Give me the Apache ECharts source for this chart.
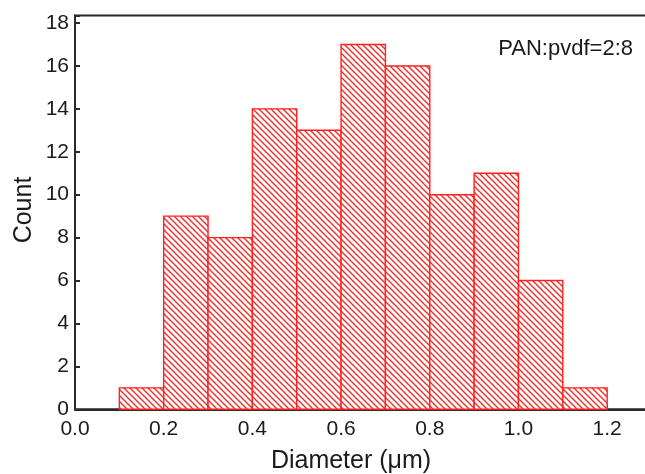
<!DOCTYPE html>
<html>
<head>
<meta charset="utf-8">
<script src="https://cdn.jsdelivr.net/npm/echarts@6/dist/echarts.min.js"></script>
<style>html,body{margin:0;padding:0;background:#fff;}#c{width:645px;height:474px;}</style>
</head>
<body>
<div id="c"></div>
<script>
var binStarts = [0.1, 0.2, 0.3, 0.4, 0.5, 0.6, 0.7, 0.8, 0.9, 1.0, 1.1];
var binEnds   = [0.2, 0.3, 0.4, 0.5, 0.6, 0.7, 0.8, 0.9, 1.0, 1.1, 1.2];
var counts    = [1, 9, 8, 14, 13, 17, 16, 10, 11, 6, 1];
var xTitle = 'Diameter (\u03bcm)';
var yTitle = 'Count';
var note = 'PAN:pvdf=2:8';

var data = binStarts.map(function (s, i) { return [s, binEnds[i], counts[i]]; });

function makePattern() {
  var c = document.createElement('canvas');
  var n = 6;
  c.width = n; c.height = n;
  var ctx = c.getContext('2d');
  ctx.fillStyle = '#ffffff';
  ctx.fillRect(0, 0, n, n);
  ctx.strokeStyle = '#f0302c';
  ctx.lineWidth = 1.4;
  ctx.beginPath();
  ctx.moveTo(-1, -1); ctx.lineTo(n + 1, n + 1);
  ctx.moveTo(-1, n - 1); ctx.lineTo(1, n + 1);
  ctx.moveTo(n - 1, -1); ctx.lineTo(n + 1, 1);
  ctx.stroke();
  return c;
}
var pattern = makePattern();

var chart = echarts.init(document.getElementById('c'), null, {renderer: 'canvas'});
var font = 'Liberation Sans, Arial, sans-serif';
chart.setOption({
  animation: false,
  backgroundColor: '#fff',
  grid: {left: 75, right: -6.5, top: 15.5, bottom: 64.7, show: true, borderColor: '#2a2a2a', borderWidth: 2,
    backgroundColor: 'transparent', containLabel: false, outerBoundsMode: 'none'},
  xAxis: {
    type: 'value', min: 0, max: 1.3, interval: 0.2,
    axisLine: {show: true, lineStyle: {color: '#2a2a2a', width: 2}},
    axisTick: {show: true, inside: true, length: 5, lineStyle: {color: '#2a2a2a', width: 2}},
    minorTick: {show: true, splitNumber: 2, length: 5, lineStyle: {color: '#2a2a2a', width: 2}},
    splitLine: {show: false},
    axisLabel: {color: '#1a1a1a', fontSize: 21, fontFamily: font, margin: 9, hideOverlap: false,
      formatter: function (v) { return v > 1.25 ? '' : v.toFixed(1); }}
  },
  yAxis: {
    type: 'value', min: 0, max: 18.35, interval: 2,
    axisLine: {show: true, lineStyle: {color: '#2a2a2a', width: 2}},
    axisTick: {show: true, inside: true, length: 5, lineStyle: {color: '#2a2a2a', width: 2}},
    splitLine: {show: false},
    axisLabel: {color: '#1a1a1a', fontSize: 21, fontFamily: font, margin: 6,
      formatter: function (v) { return v > 18.1 ? '' : String(v); }}
  },
  graphic: [
    {type: 'text', x: 351, y: 461, style: {text: xTitle, fill: '#1a1a1a', font: '25px ' + font, align: 'center', verticalAlign: 'middle'}},
    {type: 'text', x: 24, y: 210, rotation: Math.PI / 2, style: {text: yTitle, fill: '#1a1a1a', font: '25px ' + font, align: 'center', verticalAlign: 'middle'}},
    {type: 'text', x: 633, y: 49, style: {text: note, fill: '#1a1a1a', font: '22px ' + font, align: 'right', verticalAlign: 'middle'}}
  ],
  series: [{
    type: 'custom',
    data: data,
    encode: {x: [0, 1], y: 2},
    renderItem: function (params, api) {
      var p0 = api.coord([api.value(0), api.value(2)]);
      var p1 = api.coord([api.value(1), 0]);
      return {
        type: 'rect',
        shape: {x: p0[0], y: p0[1], width: p1[0] - p0[0], height: p1[1] - p0[1]},
        style: {fill: {image: pattern, repeat: 'repeat'}, stroke: '#ff2020', lineWidth: 1.4}
      };
    }
  }]
});
</script>
</body>
</html>
